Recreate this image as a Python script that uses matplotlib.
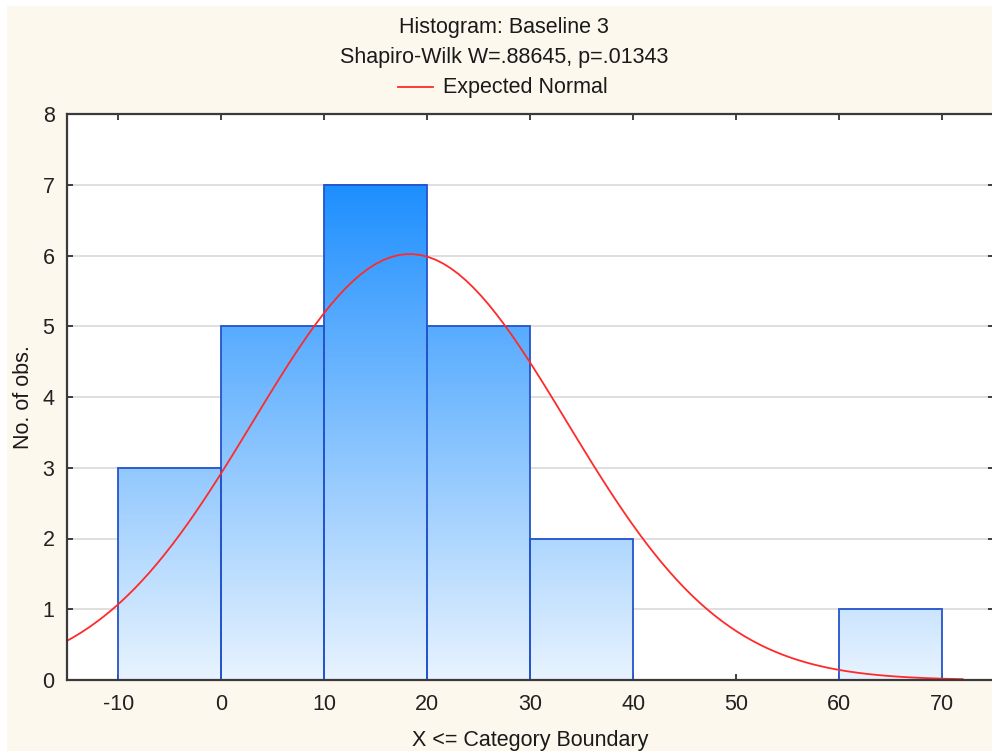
#! python3
# histogram with expected normal curve, Statistica style

import numpy as np
import matplotlib.pyplot as plt
from matplotlib.colors import LinearSegmentedColormap
from matplotlib.lines import Line2D
from matplotlib.patches import Rectangle

plt.rcParams["font.family"] = ["Liberation Sans", "DejaVu Sans"]
plt.rcParams["axes.unicode_minus"] = False

# category boundaries and counts
bin_edges = [-10, 0, 10, 20, 30, 40, 50, 60, 70]
counts = [3, 5, 7, 5, 2, 0, 0, 1]

# expected normal fit
n_obs = 23
bin_width = 10
fit_mean = 18.3
fit_sd = 15.24
curve_range = (-15, 72)

x_ticks = [-10, 0, 10, 20, 30, 40, 50, 60, 70]
y_ticks = [0, 1, 2, 3, 4, 5, 6, 7, 8]

title = "Histogram: Baseline 3"
subtitle = "Shapiro-Wilk W=.88645, p=.01343"
legend_label = "Expected Normal"

cream = "#fdf8ee"
edge_blue = "#2454cc"
cmap = LinearSegmentedColormap.from_list("bars", ["#e8f3fe", "#1e8fff"])
fs = 15.5

fig = plt.figure(figsize=(9.92, 7.51), dpi=100, facecolor="white")
fig.patches.append(Rectangle((7 / 992, 0), 1, 1 - 6 / 751, transform=fig.transFigure,
                             facecolor=cream, edgecolor="none", zorder=-10))

ax = fig.add_axes([67 / 992, 71 / 751, 926.5 / 992, 566 / 751])
ax.set_facecolor("white")

vmax = max(counts)
for left, right, h in zip(bin_edges[:-1], bin_edges[1:], counts):
    if h == 0:
        continue
    grad = np.linspace(0, h, 200).reshape(-1, 1)
    ax.imshow(grad, extent=(left, right, 0, h), origin="lower", aspect="auto",
              cmap=cmap, vmin=0, vmax=vmax, zorder=2, interpolation="bilinear")
    ax.add_patch(Rectangle((left, 0), right - left, h, facecolor="none",
                           edgecolor=edge_blue, linewidth=1.3, zorder=3))

xs = np.linspace(curve_range[0], curve_range[1], 120)
ys = n_obs * bin_width / (fit_sd * np.sqrt(2 * np.pi)) * np.exp(-0.5 * ((xs - fit_mean) / fit_sd) ** 2)
ax.plot(xs, ys, color="#ff2a2a", linewidth=1.3, zorder=4, clip_on=False)

ax.set_xlim(-15, 75)
ax.set_ylim(0, 8)
ax.set_xticks(x_ticks)
ax.set_yticks(y_ticks)
ax.yaxis.grid(True, color="#d9d9d9", linewidth=1.2, zorder=0)
ax.set_axisbelow(True)
ax.tick_params(direction="in", top=True, right=True, length=4, width=1.2,
               colors="#222222", labelsize=fs)
ax.tick_params(axis="x", pad=10)
ax.tick_params(axis="y", pad=9)
for s in ax.spines.values():
    s.set_color("#3a3a3a")
    s.set_linewidth(1.6)
    s.set_zorder(5)

ax.set_xlabel("X <= Category Boundary", fontsize=fs, color="#1a1a1a", labelpad=11)
ax.set_ylabel("No. of obs.", fontsize=fs, color="#1a1a1a", labelpad=6)

cx = 504 / 992
fig.text(cx, 1 - 28 / 751, title, ha="center", va="center", fontsize=fs, color="#1a1a1a")
fig.text(cx, 1 - 58 / 751, subtitle, ha="center", va="center", fontsize=fs, color="#1a1a1a")
fig.text(443 / 992, 1 - 87 / 751, legend_label, ha="left", va="center", fontsize=fs, color="#1a1a1a")
fig.lines.append(Line2D([398 / 992, 433 / 992], [1 - 87 / 751, 1 - 87 / 751],
                        transform=fig.transFigure, color="#ff2a2a", linewidth=1.3))

fig.savefig("out.png", dpi=100, facecolor=fig.get_facecolor())
